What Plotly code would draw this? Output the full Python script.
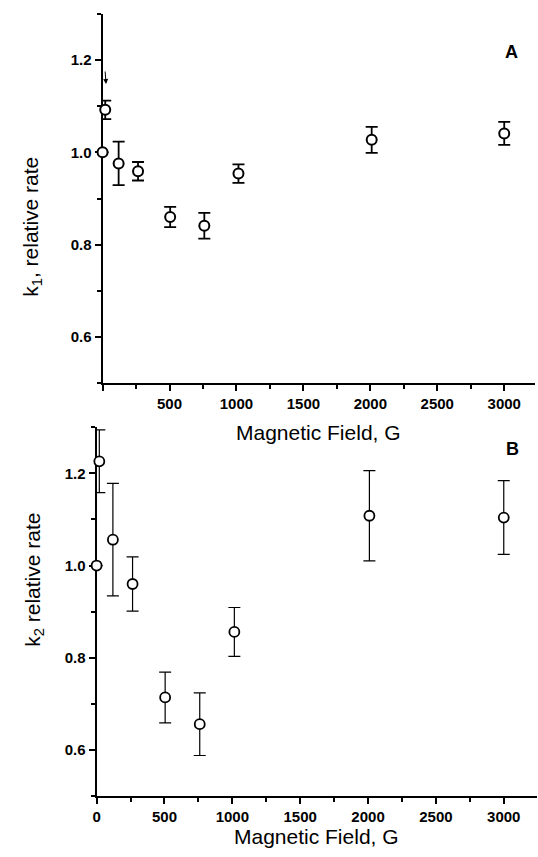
import plotly.graph_objects as go

# ---- data ----
field = [0, 20, 120, 265, 505, 760, 1015, 2010, 3000]
k1 = [1.000, 1.092, 0.976, 0.959, 0.860, 0.841, 0.954, 1.027, 1.041]
k1_err = [None, 0.020, 0.047, 0.020, 0.022, 0.028, 0.020, 0.028, 0.025]
k2 = [1.000, 1.226, 1.056, 0.960, 0.714, 0.656, 0.856, 1.108, 1.104]
k2_err = [None, 0.068, 0.122, 0.059, 0.055, 0.068, 0.053, 0.098, 0.080]

x_ticks = [0, 500, 1000, 1500, 2000, 2500, 3000]
y_ticks = [0.6, 0.8, 1.0, 1.2]
y_ticktext = ["0.6", "0.8", "1.0", "1.2"]

W, H = 538, 857
FONT = "Liberation Sans, Arial, Helvetica, sans-serif"

fig = go.Figure()

fig.add_trace(go.Scatter(
    x=field, y=k1, mode="markers", xaxis="x", yaxis="y",
    marker=dict(symbol="circle", size=10, color="white",
                line=dict(color="black", width=2)),
    error_y=dict(type="data", array=k1_err, visible=True,
                 color="black", thickness=1.8, width=6),
    cliponaxis=False, showlegend=False))

fig.add_trace(go.Scatter(
    x=field, y=k2, mode="markers", xaxis="x2", yaxis="y2",
    marker=dict(symbol="circle", size=10, color="white",
                line=dict(color="black", width=1.8)),
    error_y=dict(type="data", array=k2_err, visible=True,
                 color="black", thickness=1.2, width=6),
    cliponaxis=False, showlegend=False))

def xdom(a, b):
    return [a / W, b / W]

def ydom(top_px, bot_px):
    return [1 - bot_px / H, 1 - top_px / H]

axis_common = dict(
    showgrid=False, zeroline=False, showline=True, linecolor="black",
    linewidth=2, ticks="outside", ticklen=6, tickwidth=2, tickcolor="black",
    tickfont=dict(family=FONT, size=15, color="black", weight="bold"),
    layer="below traces", fixedrange=True,
)

fig.update_layout(
    width=W, height=H,
    margin=dict(l=0, r=0, t=0, b=0),
    paper_bgcolor="white", plot_bgcolor="white",
    xaxis=dict(axis_common, domain=xdom(99.3, 535), range=[0, 3230],
               anchor="y", tickvals=x_ticks,
               ticktext=[""] + [str(v) for v in x_ticks[1:]],
               minor=dict(dtick=250, ticks="outside", ticklen=4,
                          tickwidth=1.5, tickcolor="black")),
    yaxis=dict(axis_common, domain=ydom(13.8, 383.2), range=[0.5, 1.3],
               anchor="x", tickvals=y_ticks, ticktext=y_ticktext,
               minor=dict(dtick=0.1, ticks="outside", ticklen=4,
                          tickwidth=1.5, tickcolor="black")),
    xaxis2=dict(axis_common, domain=xdom(93.3, 537), range=[0, 3245],
                anchor="y2", tickvals=x_ticks,
                ticktext=[str(v) for v in x_ticks],
                minor=dict(dtick=250, ticks="outside", ticklen=4,
                           tickwidth=1.5, tickcolor="black")),
    yaxis2=dict(axis_common, domain=ydom(427.2, 796.1), range=[0.5, 1.3],
                anchor="x2", tickvals=y_ticks, ticktext=y_ticktext,
                minor=dict(dtick=0.1, ticks="outside", ticklen=4,
                           tickwidth=1.5, tickcolor="black")),
)

title_font = dict(family=FONT, size=21, color="black")
c = dict(xref="paper", yref="paper", showarrow=False,
         xanchor="center", yanchor="middle")
ann = [
    dict(c, text="Magnetic Field, G", x=317 / W, y=1 - 432 / H,
         font=title_font),
    dict(c, text="Magnetic Field, G", x=315 / W, y=1 - 836 / H,
         font=title_font),
    dict(c, text="k<sub>1</sub>, relative rate", x=28 / W, y=1 - 227 / H,
         textangle=-90, font=title_font),
    dict(c, text="k<sub>2</sub> relative rate", x=30 / W, y=1 - 580 / H,
         textangle=-90, font=title_font),
    dict(c, text="<b>A</b>", x=511 / W, y=1 - 52 / H,
         font=dict(family=FONT, size=18, color="black")),
    dict(c, text="<b>B</b>", x=512 / W, y=1 - 449 / H,
         font=dict(family=FONT, size=18, color="black")),
    dict(text="", x=26, y=1.148, xref="x", yref="y", showarrow=True,
         ax=-1, ay=-14, arrowhead=2, arrowsize=1, arrowwidth=1,
         arrowcolor="black", standoff=0, startstandoff=0),
]
fig.update_layout(annotations=ann)

fig.write_html("out.html",
               config={"displayModeBar": False},
               post_script="document.body.style.margin='0';"
                           "document.body.style.padding='0';")
